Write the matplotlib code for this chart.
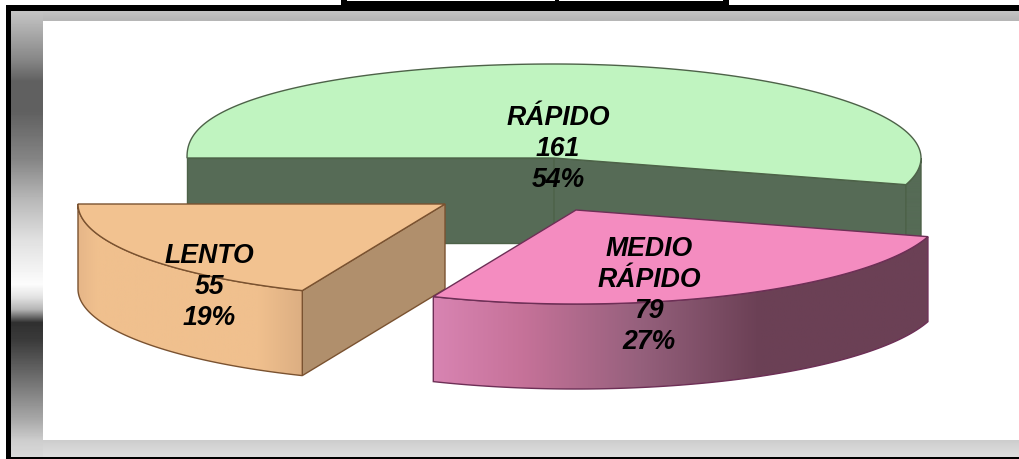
import numpy as np
import matplotlib
matplotlib.use("Agg")
import matplotlib.pyplot as plt
from matplotlib.colors import LinearSegmentedColormap
from matplotlib.patches import Polygon, Rectangle

labels = ["RÁPIDO", "MEDIO\nRÁPIDO", "LENTO"]
values = [161, 79, 55]
percents = ["54%", "27%", "19%"]

# pie geometry in pixels
rx, ry = 367, 94
depth = 85
centers = [(554, 159), (576, 211), (445, 205)]
label_pos = [(558, 147), (649, 294), (209, 285)]

top_colors = ["#c0f4c0", "#f48cc0", "#f2c290"]
edge_colors = ["#4d6248", "#6d2f56", "#7a5230"]
cut_colors = ["#566b56", "#6b4055", "#b08f6c"]
wall_stops = [
    [(0, "#566b56"), (1, "#566b56")],
    [(0, "#d884b2"), (0.18, "#c67299"), (0.42, "#95607c"), (0.66, "#6b4055"), (1, "#6b4055")],
    [(0, "#e6b688"), (0.08, "#f0c08e"), (0.8, "#f0c08e"), (1, "#dcae82")],
]

fig = plt.figure(figsize=(10.2, 4.6), dpi=100, facecolor="white")
ax = fig.add_axes([0, 0, 1, 1])


def arc(c, a0, a1, n=200):
    t = np.radians(np.linspace(a0, a1, n))
    s = np.sin(t)
    # the back left of the original is a bit fuller than a true ellipse
    s = np.where(np.cos(t) < 0, np.sign(s) * np.abs(s) ** np.where(s > 0, 0.85, 1.0), s)
    return np.column_stack([c[0] + rx * np.cos(t), c[1] - ry * s])


def extrude(pts):
    return np.vstack([pts, pts[::-1] + [0, depth]])


# frame
ax.add_patch(Rectangle((341, 0), 388, 12, color="black", lw=0))
ax.add_patch(Rectangle((347, 0), 208, 2, color="white", lw=0))
ax.add_patch(Rectangle((559, 0), 164, 2, color="white", lw=0))
ax.add_patch(Rectangle((6, 6), 1014, 454, color="black", lw=0))

side_y = [12, 22, 60, 82, 112, 160, 200, 240, 285, 298, 310, 318, 323, 340, 380, 420, 441, 458]
side_g = [196, 184, 135, 96, 96, 133, 184, 224, 252, 225, 180, 100, 48, 58, 112, 168, 205, 218]
strip = np.array(side_g)
rows = np.arange(12, 458)
grad = np.interp(rows, side_y, strip).reshape(-1, 1) / 255
ax.imshow(grad, cmap="gray", vmin=0, vmax=1, extent=(11, 43, 458, 12), aspect="auto", zorder=1)
top_band = np.linspace(196, 182, 10).reshape(-1, 1) / 255
ax.imshow(top_band, cmap="gray", vmin=0, vmax=1, extent=(43, 1020, 22, 12), aspect="auto", zorder=1)
bot_band = np.linspace(205, 222, 17).reshape(-1, 1) / 255
ax.imshow(bot_band, cmap="gray", vmin=0, vmax=1, extent=(43, 1020, 458, 441), aspect="auto", zorder=1)
ax.add_patch(Rectangle((43, 22), 977, 419, color="white", lw=0, zorder=1))

# slices, clockwise from the left side
angles = 180 - np.cumsum([0] + values) / sum(values) * 360
for i, c in enumerate(centers):
    a0, a1 = angles[i], angles[i + 1]
    z = 2 + i * 0.1 if i != 1 else 2.5
    lw = 1.0
    ec = edge_colors[i]

    # flat cut faces that look at the viewer
    if i == 0:
        for p, q in [(arc(c, a0, a0, 1)[0], c), (c, arc(c, a1, a1, 1)[0])]:
            ax.add_patch(Polygon(extrude(np.array([p, q])), fc=cut_colors[i], ec=ec, lw=lw, zorder=z))
    if i == 2:
        p = arc(c, a0, a0, 1)[0]
        ax.add_patch(Polygon(extrude(np.array([p, c])), fc=cut_colors[i], ec=ec, lw=lw, zorder=z))

    # outer wall, only the part below the ellipse's middle line shows
    lo, hi = max(a1, -180), min(a0, 0)
    if hi > lo:
        wall = Polygon(extrude(arc(c, lo, hi)), fc="none", ec="none", zorder=z)
        ax.add_patch(wall)
        cmap = LinearSegmentedColormap.from_list("wall%d" % i, wall_stops[i])
        xs = arc(c, lo, hi)[:, 0]
        im = ax.imshow(np.linspace(0, 1, 256).reshape(1, -1), cmap=cmap, vmin=0, vmax=1,
                       extent=(xs.min(), xs.max(), c[1] + ry + depth, c[1] - ry),
                       aspect="auto", zorder=z)
        im.set_clip_path(wall)
        ax.add_patch(Polygon(extrude(arc(c, lo, hi)), fc="none", ec=ec, lw=lw, zorder=z))

    # top face
    top = np.vstack([[c], arc(c, a0, a1)])
    ax.add_patch(Polygon(top, fc=top_colors[i], ec=ec, lw=lw, zorder=z))

for i, (x, y) in enumerate(label_pos):
    ax.text(x, y + 2, "%s\n%d\n%s" % (labels[i], values[i], percents[i]), ha="center", va="center",
            family="Liberation Sans", weight="bold", style="italic", fontsize=19.2,
            linespacing=1.25, color="black", zorder=5)

ax.set_xlim(0, 1020)
ax.set_ylim(460, 0)
ax.axis("off")
fig.savefig("out.png", dpi=100, facecolor="white")
